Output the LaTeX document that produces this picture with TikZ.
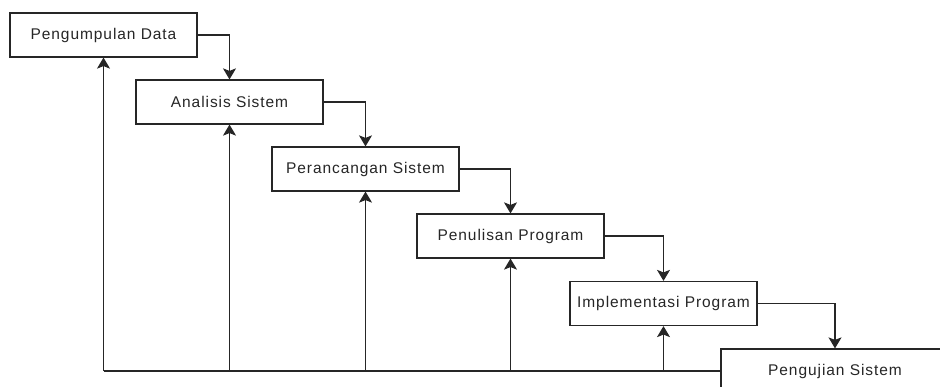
\documentclass[tikz,border=0pt]{standalone}
\usepackage{fontspec}
\setmainfont{Liberation Sans}[LetterSpace=6]
\usetikzlibrary{arrows.meta}
\begin{document}
\begin{tikzpicture}[x=1pt,y=1pt,
  stepbox/.style={draw=black!85,line width=1.2pt,minimum width=187pt,minimum height=44pt,inner sep=0pt,font=\fontsize{15.5}{18}\selectfont,text=black!85},
  conn/.style={draw=black!85,line width=1.2pt,-{Stealth[length=11pt,width=13pt,inset=2.5pt]}},
  bline/.style={draw=black!85,line width=1.2pt}]
\useasboundingbox (0,0) rectangle (940,-387);
\clip (0,0) rectangle (940,-387);
\fill[white] (0,0) rectangle (940,-387);
\node[stepbox] (b1) at (103.5,-35) {Pengumpulan Data};
\node[stepbox] (b2) at (229.5,-102) {Analisis Sistem};
\node[stepbox] (b3) at (365.5,-169) {Perancangan Sistem};
\node[stepbox] (b4) at (510.5,-236) {Penulisan Program};
\node[stepbox] (b5) at (663.5,-303.5) {Implementasi Program};
\node[stepbox,minimum width=228pt] (b6) at (835,-371) {Pengujian Sistem};
\draw[conn] (b1.east) -| (b2.north);
\draw[conn] (b2.east) -| (b3.north);
\draw[conn] (b3.east) -| (b4.north);
\draw[conn] (b4.east) -| (b5.north);
\draw[conn] (b5.east) -| (b6.north);
\coordinate (c1) at (b1.south |- b6.west);
\draw[bline] (b6.west) -- (c1);
\draw[conn] (c1) -- (b1.south);
\draw[conn] (b2.south |- b6.west) -- (b2.south);
\draw[conn] (b3.south |- b6.west) -- (b3.south);
\draw[conn] (b4.south |- b6.west) -- (b4.south);
\draw[conn] (b5.south |- b6.west) -- (b5.south);
\end{tikzpicture}
\end{document}
